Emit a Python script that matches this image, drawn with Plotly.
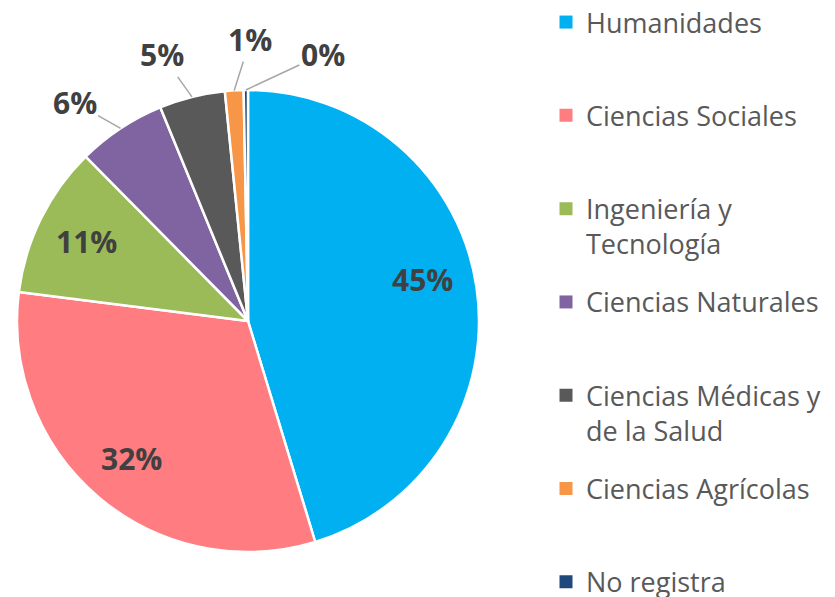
import math
import plotly.graph_objects as go

categories = ["Humanidades", "Ciencias Sociales", "Ingeniería y<br>Tecnología",
              "Ciencias Naturales", "Ciencias Médicas y<br>de la Salud",
              "Ciencias Agrícolas", "No registra"]
values = [45.3, 31.7, 10.6, 6.2, 4.6, 1.3, 0.3]
colors = ["#00B0F0", "#FF7C80", "#9BBB59", "#8064A2", "#595959", "#F79646", "#1F497D"]

W, H = 835, 597
CX, CY, R = 248, 321, 231

fig = go.Figure(go.Pie(
    labels=categories,
    values=values,
    sort=False,
    direction="clockwise",
    rotation=0,
    marker=dict(colors=colors, line=dict(color="white", width=2.5)),
    textinfo="none",
    hoverinfo="label+percent",
    showlegend=False,
    domain=dict(x=[(CX - R) / W, (CX + R) / W], y=[1 - (CY + R) / H, 1 - (CY - R) / H]),
))

# legend entries: one per category, each in its own legend box
LEG_TOP0, LEG_PITCH = 22, 93.3
legend_layout = {}
for i, (c, col) in enumerate(zip(categories, colors)):
    lname = "legend" if i == 0 else f"legend{i + 1}"
    fig.add_trace(go.Scatter(
        x=[None], y=[None], mode="markers", name=c,
        marker=dict(symbol="square", size=13, color=col),
        showlegend=True, legend=lname, hoverinfo="skip"))
    top_px = LEG_TOP0 + i * LEG_PITCH - 24
    legend_layout[lname] = dict(
        x=546 / W, y=1 - top_px / H, xanchor="left", yanchor="top", valign="top",
        font=dict(family="Open Sans", size=27, color="#595959"),
        itemwidth=30, bgcolor="rgba(0,0,0,0)")

total = sum(values)
outside = {3: (-46, -26), 4: (-30, -42), 5: (16, -51), 6: (77, -36)}
inside_nudge = {0: (-4, -15)}
annotations = []
cum = 0.0
for i, v in enumerate(values):
    mid = (cum + v / 2) / total * 2 * math.pi
    cum += v
    pct = f"{round(v / total * 100)}%"
    if i in outside:
        px = CX + R * math.sin(mid)
        py = CY - R * math.cos(mid)
        ax, ay = outside[i]
        annotations.append(dict(
            x=px / W, y=1 - py / H, xref="paper", yref="paper",
            text=f"<b>{pct}</b>", showarrow=True, arrowhead=0, arrowwidth=1.5,
            arrowcolor="#A6A6A6", ax=ax, ay=ay, standoff=0,
            font=dict(family="Open Sans", size=30, color="#404040")))
    else:
        rr = 0.78 * R
        dx, dy = inside_nudge.get(i, (0, 0))
        px = CX + rr * math.sin(mid) + dx
        py = CY - rr * math.cos(mid) + dy
        annotations.append(dict(
            x=px / W, y=1 - py / H, xref="paper", yref="paper",
            xanchor="center", yanchor="middle",
            text=f"<b>{pct}</b>", showarrow=False,
            font=dict(family="Open Sans", size=30, color="#404040")))

fig.update_layout(
    width=W, height=H,
    margin=dict(l=0, r=0, t=0, b=0, autoexpand=False),
    paper_bgcolor="white",
    plot_bgcolor="white",
    xaxis=dict(visible=False),
    yaxis=dict(visible=False),
    annotations=annotations,
    **legend_layout,
)

fig.write_html("out.html", config={"displayModeBar": False},
               post_script="document.body.style.margin='0';")
